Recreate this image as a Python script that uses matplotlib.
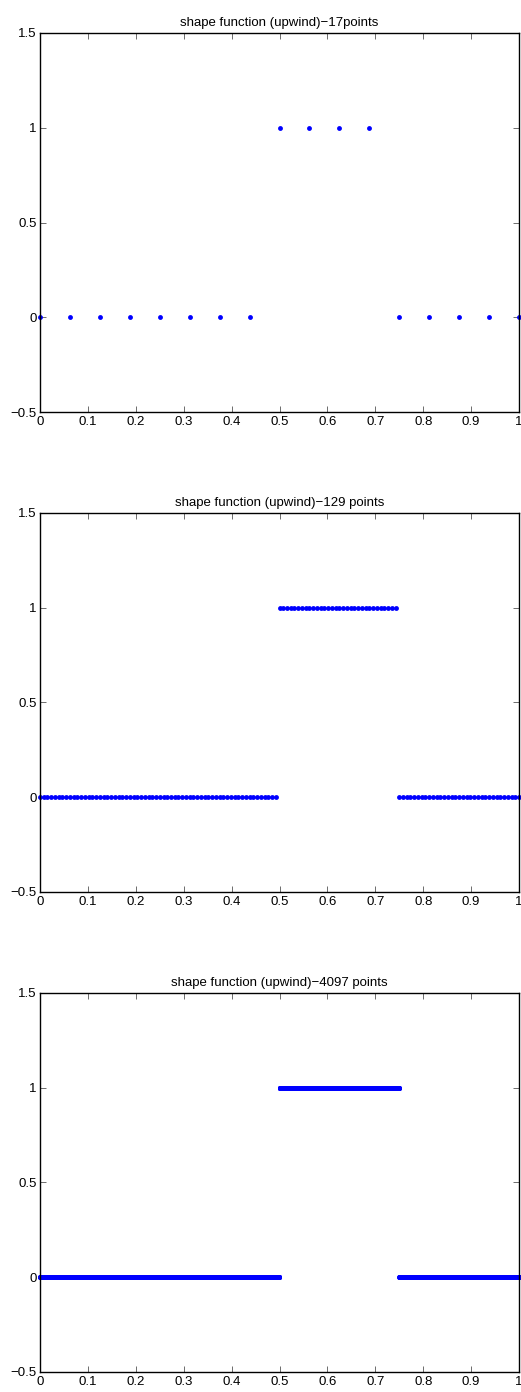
import numpy as np
import matplotlib
matplotlib.use("Agg")
import matplotlib.pyplot as plt

plt.rcParams['font.family'] = ['Liberation Sans', 'DejaVu Sans']

# number of sample points in each panel
n_points = [17, 129, 4097]
titles = ["shape function (upwind)\u221217points",
          "shape function (upwind)\u2212129 points",
          "shape function (upwind)\u22124097 points"]
# shape function is 1 on [step_start, step_end), 0 elsewhere
step_start = 0.5
step_end = 0.75

x_ticks = [0, 0.1, 0.2, 0.3, 0.4, 0.5, 0.6, 0.7, 0.8, 0.9, 1]
x_tick_labels = ["0", "0.1", "0.2", "0.3", "0.4", "0.5", "0.6", "0.7", "0.8", "0.9", "1"]
y_ticks = [-0.5, 0, 0.5, 1, 1.5]
y_tick_labels = ["\u22120.5", "0", "0.5", "1", "1.5"]

fig = plt.figure(figsize=(5.21, 13.92), dpi=100)
bottoms = [0.7040, 0.3592, 0.01437]

for n, title, b in zip(n_points, titles, bottoms):
    ax = fig.add_axes([0.0768, b, 0.9194, 0.2723])
    x = np.linspace(0, 1, n)
    y = np.where((x >= step_start) & (x < step_end), 1.0, 0.0)
    ax.plot(x, y, linestyle='none', marker='o', markersize=3.5,
            markeredgewidth=0, color='#0000ff', clip_on=False)
    ax.set_xlim(0, 1)
    ax.set_ylim(-0.5, 1.5)
    ax.set_xticks(x_ticks)
    ax.set_xticklabels(x_tick_labels)
    ax.set_yticks(y_ticks)
    ax.set_yticklabels(y_tick_labels)
    ax.tick_params(direction='in', top=True, right=True, length=4, width=0.6,
                   labelsize=9.5, color='#555555')
    ax.tick_params(axis='x', pad=3)
    ax.tick_params(axis='y', pad=2.5)
    for s in ax.spines.values():
        s.set_linewidth(1.0)
    ax.set_title(title, fontsize=9.5, pad=5)

plt.savefig('out.png', dpi=100)
